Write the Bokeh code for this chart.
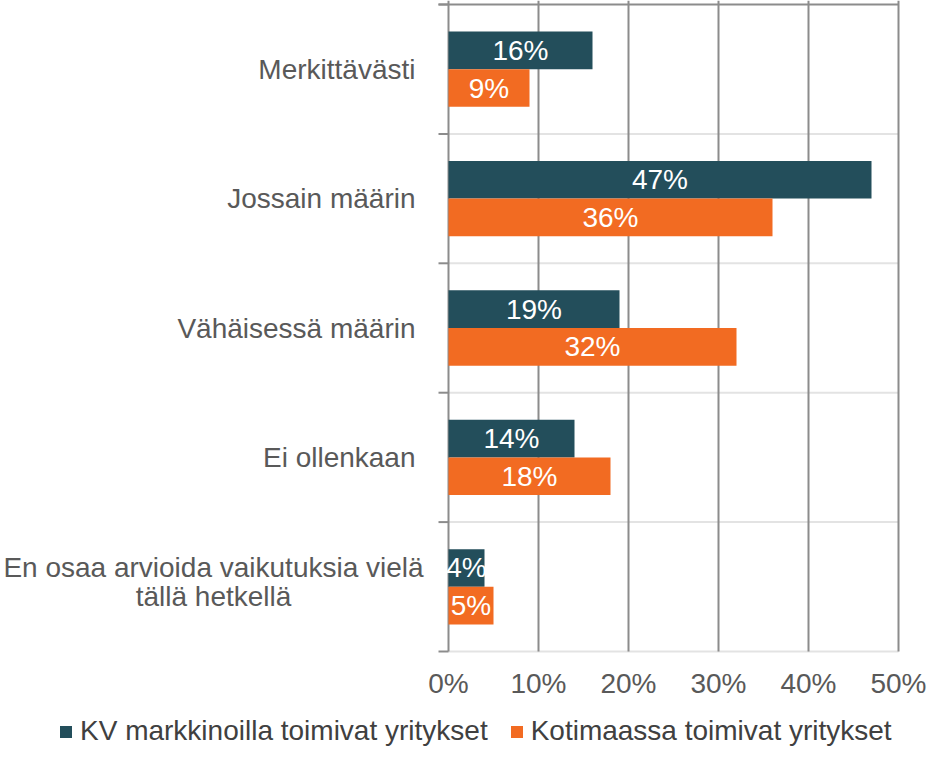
from bokeh.plotting import figure
from bokeh.models import ColumnDataSource, Range1d, Legend, LegendItem
from bokeh.transform import dodge
from bokeh.core.properties import value
from bokeh.embed import file_html
from bokeh.resources import INLINE

# ---- data ----
categories = ["Merkittävästi", "Jossain määrin", "Vähäisessä määrin", "Ei ollenkaan",
              "En osaa arvioida vaikutuksia vielä\ntällä hetkellä"]
series_names = ["KV markkinoilla toimivat yritykset", "Kotimaassa toimivat yritykset"]
kv_values = [16, 47, 19, 14, 4]
koti_values = [9, 36, 32, 18, 5]
x_ticks = [0, 10, 20, 30, 40, 50]
x_tick_labels = [f"{t}%" for t in x_ticks]

# ---- style ----
FONT = "Liberation Sans"
FS = "28px"
colors = ["#234e5b", "#f26b22"]
grid_dark = "#8c8c8c"
grid_light = "#e3e3e3"
text_gray = "#595959"
BAR_H = 0.291
PX_X = 9.0          # pixels per percent
PX_Y = 129.4        # pixels per category
X0 = 448            # pixel of 0 %
Y_TOP = 4           # pixel of the upper edge of the first category
W, H = 928, 753
TICK = 10 / PX_X    # length of the category tick marks

pos = list(range(len(categories)))
boundaries = [i - 0.5 for i in range(len(categories) + 1)]
y_top = -0.5 - Y_TOP / PX_Y
y_bottom = y_top + H / PX_Y

src = ColumnDataSource(dict(
    pos=pos,
    kv=kv_values,
    koti=koti_values,
    kv_half=[v / 2 for v in kv_values],
    koti_half=[v / 2 for v in koti_values],
    kv_lab=[f"{v}%" for v in kv_values],
    koti_lab=[f"{v}%" for v in koti_values],
))

p = figure(width=W, height=H, output_backend="svg", toolbar_location=None,
           x_range=Range1d(-X0 / PX_X, (W - X0) / PX_X),
           y_range=Range1d(y_bottom, y_top),
           min_border=0)
p.outline_line_color = None
p.axis.visible = False
p.grid.visible = False
p.background_fill_color = "white"

# horizontal category separators (light) and tick marks (dark)
p.segment(x0=0, x1=x_ticks[-1], y0=boundaries[1:], y1=boundaries[1:],
          line_color=grid_light, line_width=2)
p.segment(x0=-TICK, x1=0, y0=boundaries, y1=boundaries,
          line_color=grid_dark, line_width=2)
p.segment(x0=-TICK, x1=x_ticks[-1], y0=boundaries[0], y1=boundaries[0],
          line_color=grid_dark, line_width=2)
# vertical value grid lines
p.segment(x0=x_ticks, x1=x_ticks, y0=y_top, y1=boundaries[-1],
          line_color=grid_dark, line_width=2)

# bars
r1 = p.hbar(y=dodge("pos", -BAR_H / 2), left=0, right="kv", height=BAR_H,
            fill_color=colors[0], line_color=None, source=src)
r2 = p.hbar(y=dodge("pos", BAR_H / 2), left=0, right="koti", height=BAR_H,
            fill_color=colors[1], line_color=None, source=src)

# bar value labels
for xcol, off, lab in (("kv_half", -BAR_H / 2, "kv_lab"), ("koti_half", BAR_H / 2, "koti_lab")):
    p.text(x=xcol, y=dodge("pos", off), text=lab, source=src,
           text_color="white", text_font=value(FONT), text_font_size=FS,
           text_align="center", text_baseline="middle")

# value axis tick labels
p.text(x=x_ticks, y=[boundaries[-1]] * len(x_ticks), text=x_tick_labels,
       y_offset=32, text_color=text_gray, text_font=value(FONT), text_font_size=FS,
       text_align="center", text_baseline="middle")

# category labels
for i, cat in enumerate(categories):
    lines = cat.split("\n")
    if len(lines) == 1:
        p.text(x=[0], y=[i], text=[cat], x_offset=-33,
               text_color=text_gray, text_font=value(FONT), text_font_size=FS,
               text_align="right", text_baseline="middle")
    else:
        for j, ln in enumerate(lines):
            p.text(x=[0], y=[i], text=[ln], x_offset=-235, y_offset=-19 + 29 * j,
                   text_color=text_gray, text_font=value(FONT), text_font_size=FS,
                   text_align="center", text_baseline="middle")

# legend
legend = Legend(items=[LegendItem(label=series_names[0], renderers=[r1]),
                       LegendItem(label=series_names[1], renderers=[r2])],
                orientation="horizontal", location=(58, 6),
                glyph_width=15, glyph_height=15, label_standoff=7, spacing=21,
                label_height=30,
                padding=0, margin=0, border_line_color=None,
                background_fill_alpha=0,
                label_text_font=FONT, label_text_font_size=FS,
                label_text_color="#404040")
p.add_layout(legend)

open("out.html", "w").write(file_html(p, INLINE))
